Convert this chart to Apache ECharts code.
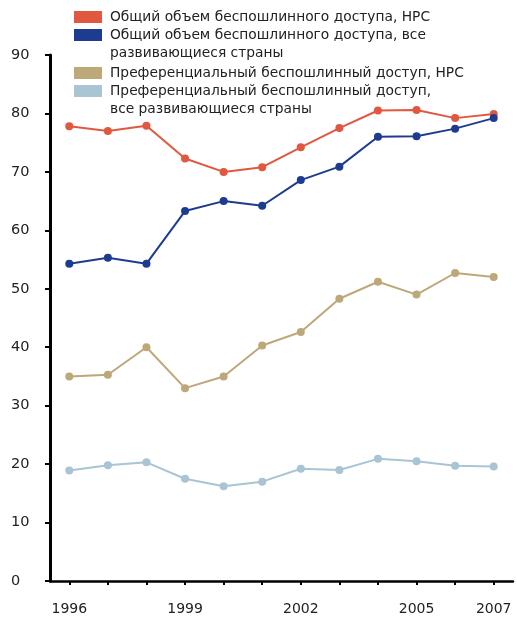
<!DOCTYPE html>
<html><head><meta charset="utf-8">
<script src="https://cdn.jsdelivr.net/npm/echarts@6/dist/echarts.min.js"></script>
<style>html,body{margin:0;padding:0;background:#fff}#c{width:517px;height:622px}</style>
</head><body><div id="c"></div>
<script>
const years = ['1996','1997','1998','1999','2000','2001','2002','2003','2004','2005','2006','2007'];
const shownYears = ['1996','1999','2002','2005','2007'];
const yTicks = {min: 0, max: 90, interval: 10};
const names = [
  'Общий объем беспошлинного доступа, НРС',
  'Общий объем беспошлинного доступа, все\nразвивающиеся страны',
  'Преференциальный беспошлинный доступ, НРС',
  'Преференциальный беспошлинный доступ,\nвсе развивающиеся страны'
];
const totalLDC = [77.8, 77.0, 77.9, 72.3, 70.0, 70.8, 74.2, 77.5, 80.5, 80.6, 79.2, 79.9];
const totalDev = [54.3, 55.3, 54.3, 63.3, 65.0, 64.2, 68.6, 70.9, 76.0, 76.1, 77.4, 79.2];
const prefLDC  = [35.0, 35.3, 40.0, 33.0, 35.0, 40.3, 42.6, 48.3, 51.2, 49.0, 52.7, 52.0];
const prefDev  = [18.9, 19.8, 20.3, 17.5, 16.2, 17.0, 19.2, 19.0, 20.9, 20.5, 19.7, 19.6];
const colors = ['#E0583F', '#1E3C8F', '#BDA87A', '#A9C4D3'];
const seriesData = [totalLDC, totalDev, prefLDC, prefDev];

const FONT = 'DejaVu Sans';
const LFS = 13.8;
const chart = echarts.init(document.getElementById('c'), null, {renderer: 'canvas'});

const legendTops = [8, 8, 64, 64];
const legends = names.map((n, i) => ({
  orient: 'vertical', left: 74, top: legendTops[i], padding: 0,
  itemWidth: 28, itemHeight: 12, itemGap: 0,
  icon: 'rect', data: [n], selectedMode: false,
  formatter: function (name) {
    const lines = name.split('\n');
    let s = lines.map(l => '{t|' + l + '}').join('\n');
    if (lines.length > 1) s = '{e| }\n' + s;
    return s;
  },
  textStyle: {
    fontFamily: FONT, fontSize: LFS, color: '#222', lineHeight: 18,
    rich: {
      t: {fontFamily: FONT, fontSize: LFS, color: '#222', lineHeight: 18, padding: [0, 0, 0, 3]},
      e: {fontFamily: FONT, fontSize: LFS, lineHeight: 18}
    }
  }
}));

chart.setOption({
  animation: false,
  color: colors,
  legend: legends,
  grid: {left: 50, right: 4, top: 55, bottom: 41, containLabel: false},
  xAxis: {
    type: 'category', data: years, boundaryGap: true,
    axisLine: {lineStyle: {color: '#000', width: 2.5}},
    axisTick: {show: true, alignWithLabel: true, interval: 0, length: 4, lineStyle: {color: '#000', width: 2}},
    axisLabel: {interval: (idx, v) => shownYears.indexOf(v) >= 0, margin: 21,
      fontFamily: FONT, fontSize: 14, color: '#222'},
    splitLine: {show: false}
  },
  yAxis: {
    type: 'value', min: yTicks.min, max: yTicks.max, interval: yTicks.interval,
    axisLine: {show: true, lineStyle: {color: '#000', width: 3}},
    axisTick: {show: true, length: 5, lineStyle: {color: '#000', width: 2}},
    axisLabel: {align: 'left', margin: 39, fontFamily: FONT, fontSize: 14.5, color: '#222',
      padding: [3, 0, 0, 0]},
    splitLine: {show: false}
  },
  series: seriesData.map((d, i) => ({
    name: names[i], type: 'line', data: d,
    symbol: 'circle', symbolSize: 8, showSymbol: true,
    lineStyle: {width: 2, color: colors[i]},
    itemStyle: {color: colors[i]}
  }))
});
</script></body></html>
